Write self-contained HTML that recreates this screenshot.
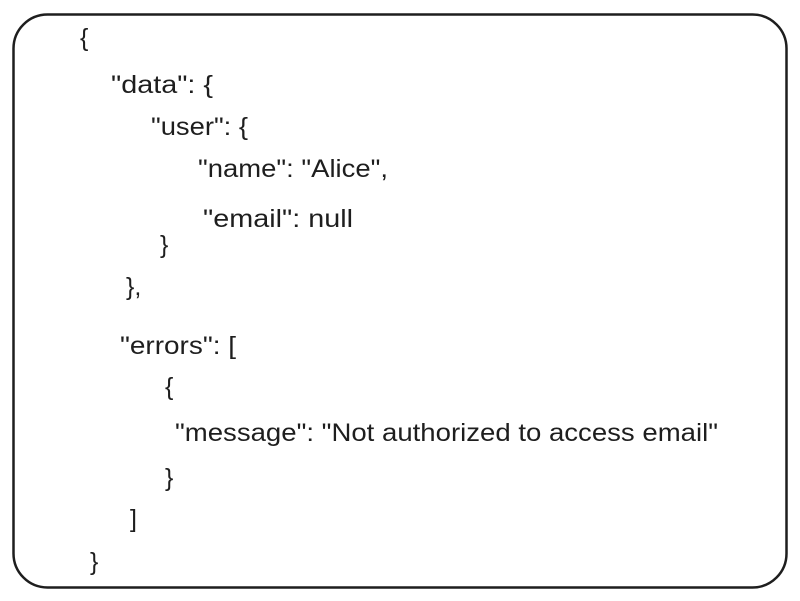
<!DOCTYPE html>
<html><head><meta charset="utf-8"><style>
html,body{margin:0;padding:0;background:#fff;}
svg{display:block;}
text{font-family:"Liberation Sans",sans-serif;font-size:25px;fill:#1e1e1e;}
</style></head><body>
<svg width="800" height="601" viewBox="0 0 800 601">
<rect x="13.5" y="14.5" width="773" height="573" rx="34" ry="34" fill="none" stroke="#1e1e1e" stroke-width="2.5"/>
<text x="80" y="46">{</text>
<text x="111" y="93" textLength="102" lengthAdjust="spacingAndGlyphs">"data": {</text>
<text x="151" y="135" textLength="97" lengthAdjust="spacingAndGlyphs">"user": {</text>
<text x="198" y="177" textLength="190" lengthAdjust="spacingAndGlyphs">"name": "Alice",</text>
<text x="203" y="227" textLength="150" lengthAdjust="spacingAndGlyphs">"email": null</text>
<text x="160" y="253">}</text>
<text x="126" y="295">},</text>
<text x="120" y="354" textLength="116" lengthAdjust="spacingAndGlyphs">"errors": [</text>
<text x="165" y="395">{</text>
<text x="175" y="441" textLength="543" lengthAdjust="spacingAndGlyphs">"message": "Not authorized to access email"</text>
<text x="165" y="486">}</text>
<text x="130" y="527">]</text>
<text x="90" y="570">}</text>
</svg>
</body></html>
